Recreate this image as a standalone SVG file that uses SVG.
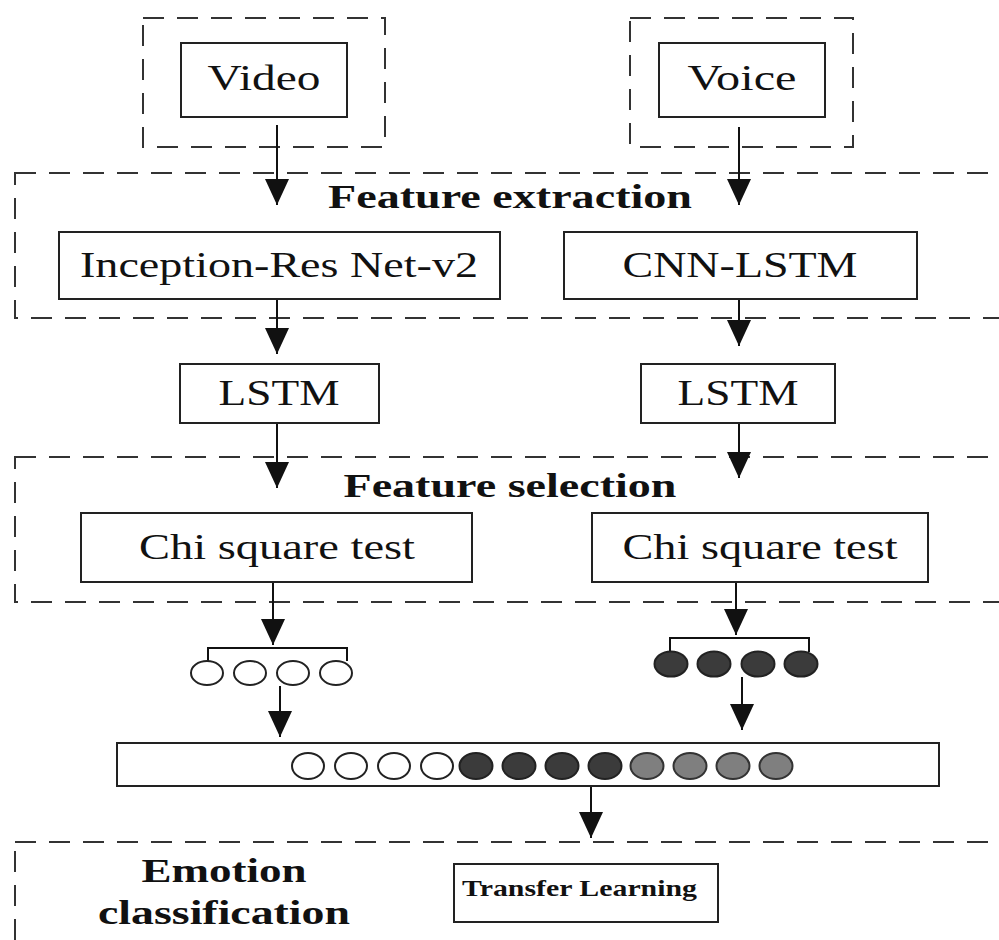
<svg xmlns="http://www.w3.org/2000/svg" width="999" height="940" viewBox="0 0 999 940">
  <defs>
    <style>
      .dash { fill: none; stroke: #333; stroke-width: 2; stroke-dasharray: 21 13; }
      .box { fill: #fff; stroke: #222; stroke-width: 2; }
      .lbl { font-family: "Liberation Serif", "Times New Roman", serif; font-size: 36px; fill: #111; text-anchor: middle; }
      .hdr { font-family: "Liberation Serif", "Times New Roman", serif; font-size: 34px; font-weight: bold; fill: #111; text-anchor: middle; }
      .wire { fill: none; stroke: #111; stroke-width: 2; }
      .arrow { fill: none; stroke: #111; stroke-width: 2; marker-end: url(#head); }
      .c-white { fill: #fff; stroke: #222; stroke-width: 2; }
      .c-dark { fill: #3b3b3b; stroke: #222; stroke-width: 2; }
      .c-gray { fill: #7f7f7f; stroke: #333; stroke-width: 2; }
    </style>
    <marker id="head" viewBox="0 0 26 24" refX="26" refY="12" markerWidth="26" markerHeight="24" markerUnits="userSpaceOnUse" orient="auto">
      <path d="M0,0 L26,12 L0,24 z" fill="#111"/>
    </marker>
  </defs>

  <rect width="999" height="940" fill="#fff"/>

  <!-- dashed stage frames -->
  <g id="frames">
    <rect id="frame-video" class="dash" x="143" y="18" width="242" height="129"/>
    <rect id="frame-voice" class="dash" x="630" y="18" width="223" height="129"/>
    <rect id="frame-extraction" class="dash" x="15" y="173" width="1000" height="145"/>
    <rect id="frame-selection" class="dash" x="15" y="457" width="1000" height="145"/>
    <rect id="frame-classification" class="dash" x="15" y="842" width="1000" height="120"/>
  </g>

  <!-- connectors -->
  <g id="connectors">
    <line class="arrow" x1="277" y1="125" x2="277" y2="205"/>
    <line class="arrow" x1="739" y1="127" x2="739" y2="205"/>
    <line class="arrow" x1="277" y1="299" x2="277" y2="354"/>
    <line class="arrow" x1="739" y1="299" x2="739" y2="346"/>
    <line class="arrow" x1="277" y1="423" x2="277" y2="488"/>
    <line class="arrow" x1="739" y1="423" x2="739" y2="478"/>
    <line class="arrow" x1="273" y1="582" x2="273" y2="645"/>
    <line class="arrow" x1="736" y1="582" x2="736" y2="635"/>
    <path class="wire" d="M208,661 V648 H347 V661"/>
    <path class="wire" d="M670,652 V638 H809 V652"/>
    <line class="arrow" x1="280" y1="686" x2="280" y2="737"/>
    <line class="arrow" x1="742" y1="677" x2="742" y2="730"/>
    <line class="arrow" x1="591" y1="786" x2="591" y2="838"/>
  </g>

  <g id="video">
    <rect class="box" x="181" y="43" width="166" height="74"/>
    <text class="lbl" x="264" y="90" textLength="113" lengthAdjust="spacingAndGlyphs">Video</text>
  </g>
  <g id="voice">
    <rect class="box" x="659" y="43" width="166" height="74"/>
    <text class="lbl" x="742" y="90" textLength="109" lengthAdjust="spacingAndGlyphs">Voice</text>
  </g>

  <g id="feature-extraction">
    <text class="hdr" x="510" y="208" textLength="364" lengthAdjust="spacingAndGlyphs">Feature extraction</text>
  </g>
  <g id="inception">
    <rect class="box" x="59" y="232" width="441" height="67"/>
    <text class="lbl" x="279" y="277" textLength="398" lengthAdjust="spacingAndGlyphs">Inception-Res Net-v2</text>
  </g>
  <g id="cnn-lstm">
    <rect class="box" x="564" y="232" width="353" height="67"/>
    <text class="lbl" x="740" y="277" textLength="235" lengthAdjust="spacingAndGlyphs">CNN-LSTM</text>
  </g>

  <g id="lstm-video">
    <rect class="box" x="180" y="364" width="199" height="59"/>
    <text class="lbl" x="279" y="405" textLength="121" lengthAdjust="spacingAndGlyphs">LSTM</text>
  </g>
  <g id="lstm-voice">
    <rect class="box" x="641" y="364" width="194" height="59"/>
    <text class="lbl" x="738" y="405" textLength="121" lengthAdjust="spacingAndGlyphs">LSTM</text>
  </g>

  <g id="feature-selection">
    <text class="hdr" x="510" y="497" textLength="333" lengthAdjust="spacingAndGlyphs">Feature selection</text>
  </g>
  <g id="chi-video">
    <rect class="box" x="81" y="513" width="391" height="69"/>
    <text class="lbl" x="277" y="559" textLength="276" lengthAdjust="spacingAndGlyphs">Chi square test</text>
  </g>
  <g id="chi-voice">
    <rect class="box" x="592" y="513" width="336" height="69"/>
    <text class="lbl" x="760" y="559" textLength="275" lengthAdjust="spacingAndGlyphs">Chi square test</text>
  </g>

  <g id="video-features">
    <ellipse class="c-white" cx="207" cy="673" rx="16" ry="12"/>
    <ellipse class="c-white" cx="250" cy="673" rx="16" ry="12"/>
    <ellipse class="c-white" cx="293" cy="673" rx="16" ry="12"/>
    <ellipse class="c-white" cx="336" cy="673" rx="16" ry="12"/>
  </g>
  <g id="voice-features">
    <ellipse class="c-dark" cx="671" cy="664" rx="16.5" ry="12.5"/>
    <ellipse class="c-dark" cx="714" cy="664" rx="16.5" ry="12.5"/>
    <ellipse class="c-dark" cx="758" cy="664" rx="16.5" ry="12.5"/>
    <ellipse class="c-dark" cx="801" cy="664" rx="16.5" ry="12.5"/>
  </g>

  <g id="fused-vector">
    <rect class="box" x="117" y="743" width="822" height="43"/>
    <ellipse class="c-white" cx="308" cy="766" rx="16" ry="13"/>
    <ellipse class="c-white" cx="351" cy="766" rx="16" ry="13"/>
    <ellipse class="c-white" cx="394" cy="766" rx="16" ry="13"/>
    <ellipse class="c-white" cx="437" cy="766" rx="16" ry="13"/>
    <ellipse class="c-dark" cx="476" cy="766" rx="16.5" ry="13"/>
    <ellipse class="c-dark" cx="519" cy="766" rx="16.5" ry="13"/>
    <ellipse class="c-dark" cx="562" cy="766" rx="16.5" ry="13"/>
    <ellipse class="c-dark" cx="605" cy="766" rx="16.5" ry="13"/>
    <ellipse class="c-gray" cx="647" cy="766" rx="16.5" ry="13"/>
    <ellipse class="c-gray" cx="690" cy="766" rx="16.5" ry="13"/>
    <ellipse class="c-gray" cx="733" cy="766" rx="16.5" ry="13"/>
    <ellipse class="c-gray" cx="776" cy="766" rx="16.5" ry="13"/>
  </g>

  <g id="emotion-classification">
    <text class="hdr" x="224" y="882" font-size="33" textLength="165" lengthAdjust="spacingAndGlyphs">Emotion</text>
    <text class="hdr" x="224" y="924" font-size="33" textLength="252" lengthAdjust="spacingAndGlyphs">classification</text>
  </g>
  <g id="transfer-learning">
    <rect class="box" x="454" y="864" width="264" height="58"/>
    <text class="hdr" x="462" y="896" style="font-size:24px;text-anchor:start" textLength="235" lengthAdjust="spacingAndGlyphs">Transfer Learning</text>
  </g>
</svg>
